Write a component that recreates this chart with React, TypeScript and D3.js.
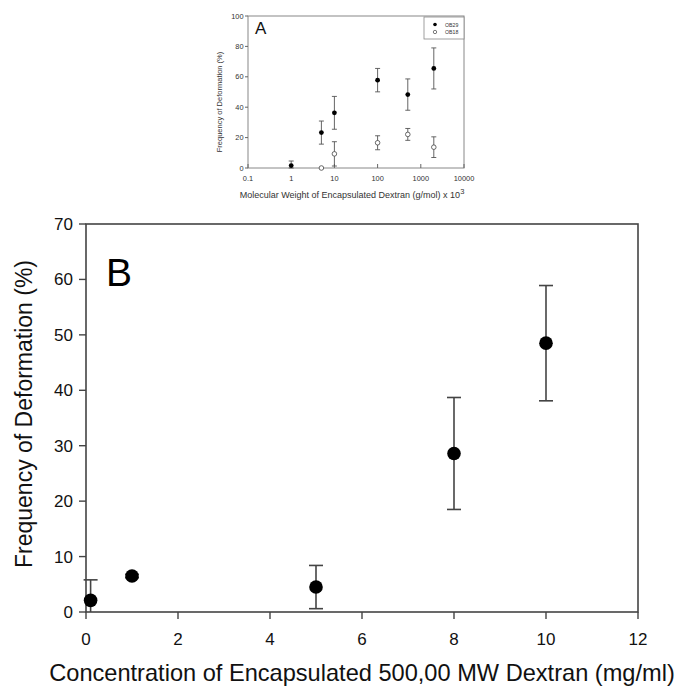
import React from "react";
import { scaleLinear, scaleLog } from "d3";

// panel A: molecular weight (x10^3 g/mol) vs frequency of deformation
const aWeights = [1, 5, 10, 100, 500, 2000];
const ob29Mean = [1.6, 23.3, 36.3, 57.8, 48.3, 65.5];
const ob29Err = [3.0, 7.6, 10.8, 7.7, 10.3, 13.5];
const ob18Weights = [5, 10, 100, 500, 2000];
const ob18Mean = [0, 9.3, 16.6, 22.1, 13.7];
const ob18Err = [0, 8.0, 4.6, 3.9, 6.8];
const aXTicks = [0.1, 1, 10, 100, 1000, 10000];
const aYTicks = [0, 20, 40, 60, 80, 100];

// panel B: concentration of 500,00 MW dextran vs frequency of deformation
const bConc = [0.1, 1, 5, 8, 10];
const bMean = [2.1, 6.5, 4.5, 28.6, 48.5];
const bErr = [3.7, 0.3, 3.9, 10.1, 10.4];
const bXTicks = [0, 2, 4, 6, 8, 10, 12];
const bYTicks = [0, 10, 20, 30, 40, 50, 60, 70];

const font = "'Liberation Sans', Arial, sans-serif";

const PanelA = () => {
  const x = scaleLog().domain([0.1, 10000]).range([248, 464]);
  const y = scaleLinear().domain([0, 100]).range([168, 16]);
  const cap = 2.5;
  const bar = (cx: number, m: number, e: number, key: string) => {
    if (e <= 0) return null;
    const lo = Math.max(0, m - e);
    return (
      <g key={key} stroke="#555" strokeWidth={0.9}>
        <line x1={cx} x2={cx} y1={y(m + e)} y2={y(lo)} />
        <line x1={cx - cap} x2={cx + cap} y1={y(m + e)} y2={y(m + e)} />
        <line x1={cx - cap} x2={cx + cap} y1={y(lo)} y2={y(lo)} />
      </g>
    );
  };
  return (
    <g fontFamily={font}>
      <rect x={248} y={16} width={216} height={152} fill="none" stroke="#888" strokeWidth={1} />
      {aYTicks.map((t) => (
        <g key={"ay" + t}>
          <line x1={245} x2={248} y1={y(t)} y2={y(t)} stroke="#666" />
          <text x={243.5} y={y(t) + 2.6} fontSize={7.4} textAnchor="end" fill="#333">{t}</text>
        </g>
      ))}
      {aXTicks.map((t) => (
        <g key={"ax" + t}>
          <line x1={x(t)} x2={x(t)} y1={168} y2={164} stroke="#666" />
          <text x={x(t)} y={180.5} fontSize={7.4} textAnchor="middle" fill="#333">{t}</text>
        </g>
      ))}
      <text x={255} y={34} fontSize={17} fill="#111">A</text>
      <text
        transform="translate(222,102) rotate(-90)"
        fontSize={7.5}
        textAnchor="middle"
        fill="#333"
      >
        Frequency of Deformation (%)
      </text>
      <text x={352} y={198} fontSize={9} textAnchor="middle" fill="#333">
        Molecular Weight of Encapsulated Dextran (g/mol) x 10
        <tspan dy={-4} fontSize={7.5}>3</tspan>
      </text>
      {ob18Weights.map((w, i) => bar(x(w), ob18Mean[i], ob18Err[i], "b18" + i))}
      {aWeights.map((w, i) => bar(x(w), ob29Mean[i], ob29Err[i], "b29" + i))}
      {ob18Weights.map((w, i) => (
        <circle key={"p18" + i} cx={x(w)} cy={y(ob18Mean[i])} r={2.3} fill="#fff" stroke="#444" strokeWidth={0.8} />
      ))}
      {aWeights.map((w, i) => (
        <circle key={"p29" + i} cx={x(w)} cy={y(ob29Mean[i])} r={2.4} fill="#000" />
      ))}
      <rect x={424} y={17} width={40} height={22} fill="#fff" stroke="#888" strokeWidth={0.8} />
      <circle cx={435} cy={24.5} r={1.8} fill="#000" />
      <circle cx={435} cy={32} r={1.7} fill="#fff" stroke="#444" strokeWidth={0.7} />
      <text x={445} y={26.5} fontSize={5.2} fill="#333">OB29</text>
      <text x={445} y={34} fontSize={5.2} fill="#333">OB18</text>
    </g>
  );
};

const PanelB = () => {
  const x = scaleLinear().domain([0, 12]).range([86, 638]);
  const y = scaleLinear().domain([0, 70]).range([612, 224]);
  const cap = 7;
  return (
    <g fontFamily={font}>
      <rect x={86} y={224} width={552} height={388} fill="none" stroke="#444" strokeWidth={1.6} />
      {bYTicks.map((t) => (
        <g key={"by" + t}>
          <line x1={79} x2={86} y1={y(t)} y2={y(t)} stroke="#444" strokeWidth={1.4} />
          <text x={73} y={y(t) + 6} fontSize={17} textAnchor="end" fill="#111">{t}</text>
        </g>
      ))}
      {bXTicks.map((t) => (
        <g key={"bx" + t}>
          <line x1={x(t)} x2={x(t)} y1={612} y2={619} stroke="#444" strokeWidth={1.4} />
          <text x={x(t)} y={645} fontSize={17} textAnchor="middle" fill="#111">{t}</text>
        </g>
      ))}
      <text x={106} y={286} fontSize={39} fill="#000">B</text>
      <text
        transform="translate(32,414) rotate(-90)"
        fontSize={23}
        textAnchor="middle"
        fill="#111"
      >
        Frequency of Deformation (%)
      </text>
      <text x={362} y={681} fontSize={23.6} textAnchor="middle" fill="#111">
        Concentration of Encapsulated 500,00 MW Dextran (mg/ml)
      </text>
      {bConc.map((c, i) => {
        const hi = bMean[i] + bErr[i];
        const lo = bMean[i] - bErr[i];
        return (
          <g key={"e" + i} stroke="#444" strokeWidth={1.6}>
            <line x1={x(c)} x2={x(c)} y1={y(hi)} y2={y(Math.max(0, lo))} />
            <line x1={x(c) - cap} x2={x(c) + cap} y1={y(hi)} y2={y(hi)} />
            {lo >= 0 && <line x1={x(c) - cap} x2={x(c) + cap} y1={y(lo)} y2={y(lo)} />}
          </g>
        );
      })}
      {bConc.map((c, i) => (
        <circle key={"p" + i} cx={x(c)} cy={y(bMean[i])} r={6.8} fill="#000" />
      ))}
    </g>
  );
};

export default function App() {
  return (
    <svg width={679} height={687} style={{ position: "absolute", left: 0, top: 0 }}>
      <rect width={679} height={687} fill="#fff" />
      <PanelA />
      <PanelB />
    </svg>
  );
}
